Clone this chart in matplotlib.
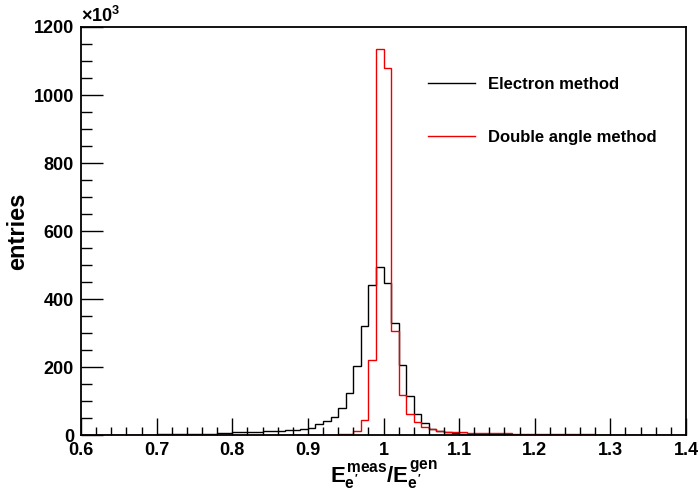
import numpy as np
import matplotlib
matplotlib.use('Agg')
import matplotlib.pyplot as plt
from matplotlib.ticker import MultipleLocator

# bin edges: 0.6 .. 1.4 in steps of 0.01 (80 bins), entries in units of 10^3
x_lo, x_hi, bin_w = 0.6, 1.4, 0.01

electron = [0.5, 0.5, 0.6, 0.7, 0.8, 0.9, 1.0, 1.1, 1.2, 1.4,
            1.6, 1.8, 2.0, 2.3, 2.6, 3.0, 4.0, 4.0, 5.0, 7.0,
            8.0, 8.0, 9.0, 10, 11, 12, 13, 14, 16, 18,
            21, 31, 40, 54, 80, 125, 202, 322, 442, 494,
            447, 328, 205, 116, 61, 34, 19, 13, 9, 6,
            4, 3, 3, 2, 2, 2, 1.5, 1.2, 1.0, 0.8,
            0.7, 0.7, 0.6, 0.6, 0.5, 0.5, 0.4, 0.4, 0.4, 0.3,
            0.3, 0.3, 0.2, 0.2, 0.2, 0.2, 0.1, 0.1, 0.1, 0.1]

double_angle = [0.3, 0.3, 0.3, 0.3, 0.3, 0.3, 0.3, 0.3, 0.3, 0.3,
                0.3, 0.3, 0.3, 0.3, 0.3, 0.3, 0.3, 0.3, 0.3, 0.3,
                0.3, 0.3, 0.3, 0.3, 0.3, 0.3, 0.3, 0.3, 0.4, 0.4,
                0.5, 0.6, 0.8, 1.2, 2, 4, 11, 44, 221, 1135,
                1078, 306, 119, 62, 37, 23, 17, 13, 10, 9,
                8, 7, 6.5, 6, 5.5, 5, 4.5, 4.2, 4, 3.6,
                3.3, 3, 2.8, 2.5, 2.3, 2, 1.8, 1.6, 1.4, 1.2,
                1.1, 1.0, 0.9, 0.8, 0.6, 0.5, 0.3, 0.3, 0.3, 0.3]

labels = ['Electron method', 'Double angle method']

plt.rcParams['font.family'] = ['Liberation Sans', 'DejaVu Sans']
plt.rcParams['font.weight'] = 'bold'
plt.rcParams['mathtext.fontset'] = 'custom'
plt.rcParams['mathtext.rm'] = 'Liberation Sans:bold'
plt.rcParams['mathtext.it'] = 'Liberation Sans:bold'
plt.rcParams['mathtext.bf'] = 'Liberation Sans:bold'

edges = np.round(np.arange(x_lo, x_hi + bin_w / 2, bin_w), 4)

fig = plt.figure(figsize=(6.99, 4.92), dpi=100)
ax = fig.add_axes([81 / 699, 1 - 435 / 492, (686 - 81) / 699, (435 - 27) / 492])

ax.stairs(electron, edges, color='black', lw=1.0, label=labels[0])
ax.stairs(double_angle, edges, color='#ee0000', lw=1.0, label=labels[1])

ax.set_xlim(x_lo, x_hi)
ax.set_ylim(0, 1200)
ax.xaxis.set_major_locator(MultipleLocator(0.1))
ax.xaxis.set_minor_locator(MultipleLocator(0.02))
ax.yaxis.set_major_locator(MultipleLocator(200))
ax.yaxis.set_minor_locator(MultipleLocator(50))
ax.xaxis.set_major_formatter(lambda v, p: '%g' % round(v, 2))
ax.tick_params(which='both', direction='in', top=False, right=False,
               labelsize=13, width=1.0)
ax.tick_params(axis='x', which='major', length=12, pad=5)
ax.tick_params(axis='x', which='minor', length=6)
ax.tick_params(axis='y', which='major', length=16, pad=5)
ax.tick_params(axis='y', which='minor', length=8)
for lab in ax.get_xticklabels() + ax.get_yticklabels():
    lab.set_fontweight('bold')
for sp in ax.spines.values():
    sp.set_linewidth(1.3)

ax.set_ylabel('entries', fontsize=17, fontweight='bold', labelpad=3)
ax.set_xlabel(r"$E^{meas}_{e'}/E^{gen}_{e'}$", fontsize=16, labelpad=0)
fig.text(81 / 699, 1 - 26 / 492, r'$\times10^{3}$', fontsize=13,
         ha='left', va='bottom')

leg = ax.legend(loc='upper right', bbox_to_anchor=(0.977, 0.915), frameon=False,
                handlelength=2.8, handletextpad=0.8,
                labelspacing=2.3, prop={'weight': 'bold', 'size': 12})

fig.savefig('out.png', dpi=100)
